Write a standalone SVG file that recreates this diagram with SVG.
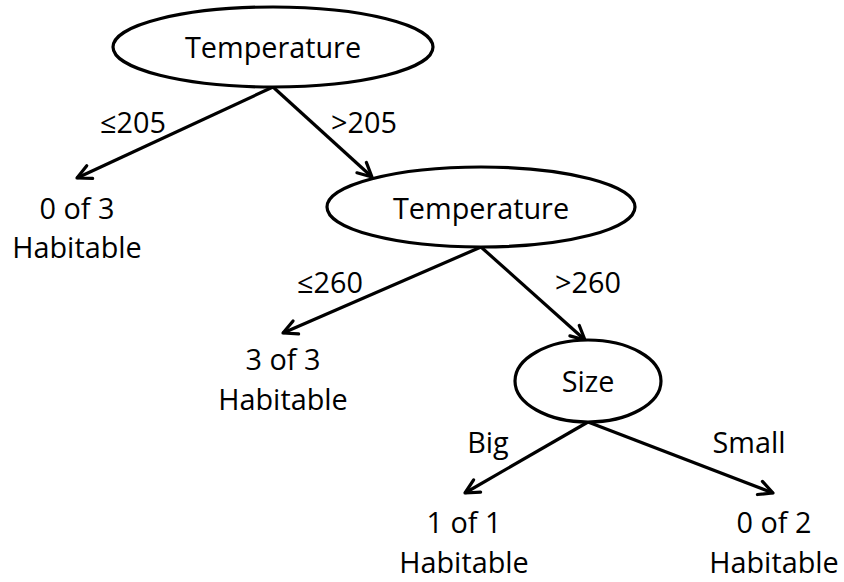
<svg xmlns="http://www.w3.org/2000/svg" width="844" height="582" viewBox="0 0 844 582">
<style>
.n{fill:#fff;stroke:#000;stroke-width:3.2}
.e{stroke:#000;stroke-width:3.2;fill:none;marker-end:url(#ah)}
text{font-family:"Open Sans","Liberation Sans",sans-serif;font-size:28.8px;fill:#000;text-anchor:middle}
</style>
<defs>
<marker id="ah" viewBox="-18 -10 22 20" refX="0" refY="0" markerWidth="22" markerHeight="20" markerUnits="userSpaceOnUse" orient="auto">
<path d="M-14,-7 L0,0 L-14,7" fill="none" stroke="#000" stroke-width="3.2" stroke-linejoin="round" stroke-linecap="round"/>
</marker>
</defs>
<g id="connectors">
<line class="e" x1="273" y1="87" x2="77" y2="178"/>
<line class="e" x1="273" y1="87" x2="372" y2="177"/>
<line class="e" x1="481" y1="247" x2="283" y2="333"/>
<line class="e" x1="481" y1="247" x2="585" y2="340"/>
<line class="e" x1="588" y1="422" x2="465" y2="493"/>
<line class="e" x1="588" y1="422" x2="773" y2="493"/>
<text x="133" y="133">≤205</text>
<text x="364" y="133">&gt;205</text>
<text x="330" y="293">≤260</text>
<text x="588" y="293">&gt;260</text>
<text x="488" y="453">Big</text>
<text x="749" y="453">Small</text>
</g>
<g id="root">
<ellipse class="n" cx="273" cy="47" rx="160" ry="40"/>
<text x="273" y="58">Temperature</text>
</g>
<g id="temp2">
<ellipse class="n" cx="481" cy="207" rx="154" ry="40"/>
<text x="481" y="219">Temperature</text>
</g>
<g id="size">
<ellipse class="n" cx="588" cy="381" rx="73" ry="41"/>
<text x="588" y="392">Size</text>
</g>
<g id="leaf1">
<text x="77" y="219">0 of 3</text>
<text x="77" y="258">Habitable</text>
</g>
<g id="leaf2">
<text x="283" y="370">3 of 3</text>
<text x="283" y="410">Habitable</text>
</g>
<g id="leaf3">
<text x="464" y="533">1 of 1</text>
<text x="464" y="573">Habitable</text>
</g>
<g id="leaf4">
<text x="774" y="533">0 of 2</text>
<text x="774" y="573">Habitable</text>
</g>
</svg>
